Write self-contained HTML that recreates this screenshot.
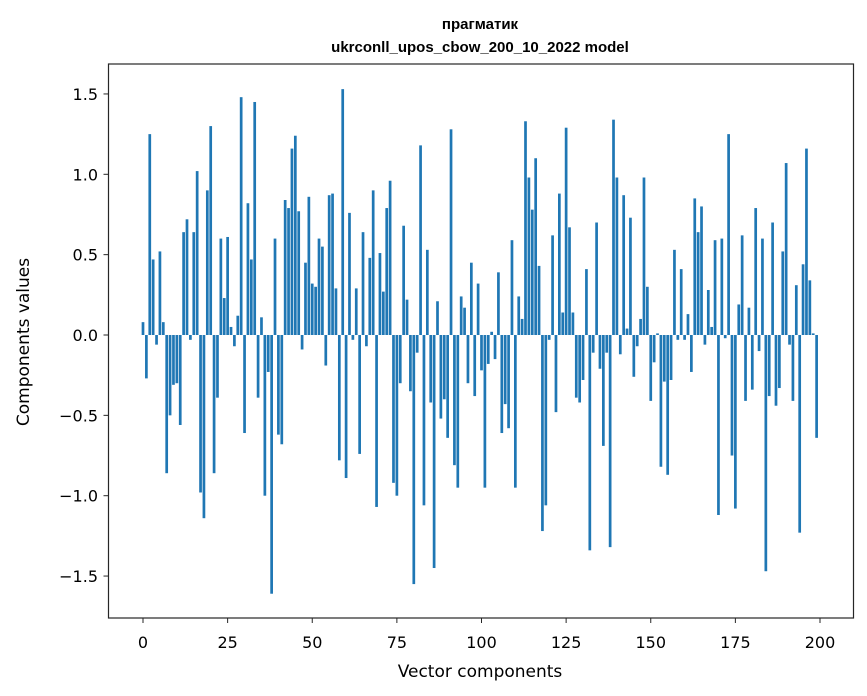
<!DOCTYPE html>
<html><head><meta charset="utf-8"><style>
body{margin:0;background:#fff;}
svg{display:block;font-family:"DejaVu Sans","Liberation Sans",sans-serif;}
</style></head><body>
<svg id="chart" width="867" height="696">
<text x="480" y="29" text-anchor="middle" font-size="15" font-weight="bold" font-family="Liberation Sans, sans-serif">прагматик</text>
<text x="480" y="52" text-anchor="middle" font-size="15" font-weight="bold" font-family="Liberation Sans, sans-serif">ukrconll_upos_cbow_200_10_2022 model</text>
<g id="bars"></g>
<rect x="108.5" y="64" width="745" height="554" fill="none" stroke="#262626" stroke-width="1.2"/>
<g id="xticks"></g>
<g id="yticks"></g>
<text x="480" y="677" text-anchor="middle" font-size="17">Vector components</text>
<text transform="translate(29,342) rotate(-90)" text-anchor="middle" font-size="17">Components values</text>
</svg>
<script>
const values = [0.08,-0.27,1.25,0.47,-0.06,0.52,0.08,-0.86,-0.50,-0.31,-0.30,-0.56,0.64,0.72,-0.03,0.64,1.02,-0.98,-1.14,0.90,1.30,-0.86,-0.39,0.60,0.23,0.61,0.05,-0.07,0.12,1.48,-0.61,0.82,0.47,1.45,-0.39,0.11,-1.00,-0.23,-1.61,0.60,-0.62,-0.68,0.84,0.79,1.16,1.24,0.77,-0.09,0.45,0.86,0.32,0.30,0.60,0.55,-0.19,0.87,0.88,0.29,-0.78,1.53,-0.89,0.76,-0.03,0.29,-0.74,0.64,-0.07,0.48,0.90,-1.07,0.51,0.27,0.79,0.96,-0.92,-1.00,-0.30,0.68,0.22,-0.35,-1.55,-0.11,1.18,-1.06,0.53,-0.42,-1.45,0.21,-0.52,-0.40,-0.64,1.28,-0.81,-0.95,0.24,0.17,-0.30,0.45,-0.38,0.32,-0.22,-0.95,-0.18,0.02,-0.15,0.39,-0.61,-0.43,-0.58,0.59,-0.95,0.24,0.10,1.33,0.98,0.78,1.10,0.43,-1.22,-1.06,-0.03,0.62,-0.48,0.88,0.14,1.29,0.67,0.14,-0.39,-0.42,-0.28,0.41,-1.34,-0.11,0.70,-0.21,-0.69,-0.11,-1.32,1.34,0.98,-0.12,0.87,0.04,0.73,-0.26,-0.07,0.10,0.98,0.30,-0.41,-0.17,0.01,-0.82,-0.29,-0.87,-0.28,0.53,-0.03,0.41,-0.03,0.13,-0.23,0.85,0.64,0.80,-0.06,0.28,0.05,0.59,-1.12,0.60,-0.02,1.25,-0.75,-1.08,0.19,0.62,-0.41,0.17,-0.34,0.79,-0.10,0.60,-1.47,-0.38,0.70,-0.44,-0.33,0.52,1.07,-0.06,-0.41,0.31,-1.23,0.44,1.16,0.34,0.01,-0.64];
const xTicks = [0,25,50,75,100,125,150,175,200];
const yTicks = [-1.5,-1.0,-0.5,0.0,0.5,1.0,1.5];
const yTickLabels = ["\u22121.5","\u22121.0","\u22120.5","0.0","0.5","1.0","1.5"];
const NS="http://www.w3.org/2000/svg";
const xs = v => 143 + v*3.385;
const ys = v => 335 - v*160.7;
const bars=document.getElementById('bars');
values.forEach((v,i)=>{
  const r=document.createElementNS(NS,'rect');
  const y0=ys(Math.max(v,0)), y1=ys(Math.min(v,0));
  r.setAttribute('x',xs(i-0.4));r.setAttribute('y',y0);
  r.setAttribute('width',0.8*3.385);r.setAttribute('height',Math.max(y1-y0,0.3));
  r.setAttribute('fill','#1f77b4');
  
  
  bars.appendChild(r);
});
const xg=document.getElementById('xticks');
xTicks.forEach(t=>{
  const l=document.createElementNS(NS,'line');
  l.setAttribute('x1',xs(t));l.setAttribute('x2',xs(t));l.setAttribute('y1',618);l.setAttribute('y2',623);l.setAttribute('stroke','#262626');
  
  
  xg.appendChild(l);
  const tx=document.createElementNS(NS,'text');
  tx.setAttribute('x',xs(t));tx.setAttribute('y',648);tx.setAttribute('text-anchor','middle');tx.setAttribute('font-size','16');
  tx.textContent=t;
  
  
  xg.appendChild(tx);
});
const yg=document.getElementById('yticks');
yTicks.forEach((t,i)=>{
  const l=document.createElementNS(NS,'line');
  l.setAttribute('x1',103.5);l.setAttribute('x2',108.5);l.setAttribute('y1',ys(t));l.setAttribute('y2',ys(t));l.setAttribute('stroke','#262626');
  
  
  yg.appendChild(l);
  const tx=document.createElementNS(NS,'text');
  tx.setAttribute('x',98);tx.setAttribute('y',ys(t)+6);tx.setAttribute('text-anchor','end');tx.setAttribute('font-size','16');
  tx.textContent=yTickLabels[i];
  
  
  yg.appendChild(tx);
});
</script>
</body></html>
